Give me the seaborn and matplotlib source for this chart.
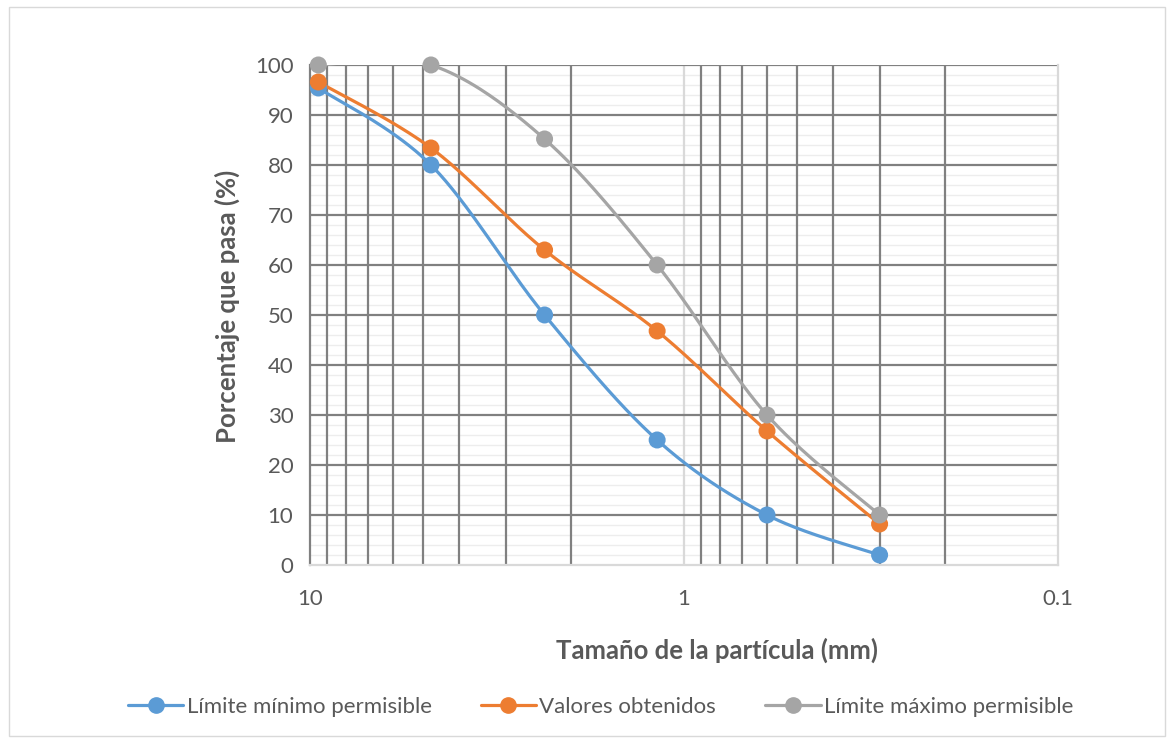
import numpy as np
import pandas as pd
import matplotlib
matplotlib.use("Agg")
import matplotlib.pyplot as plt
import seaborn as sns
from matplotlib.ticker import FixedLocator, NullFormatter
from matplotlib.patches import Rectangle
from matplotlib.lines import Line2D

# Sieve openings (mm) and percentage passing for each series
sizes = [9.5, 4.75, 2.36, 1.18, 0.6, 0.3]
lim_min = [95.4, 80, 50, 25, 10, 2]
obtenidos = [96.6, 83.4, 63, 46.8, 26.8, 8.2]
lim_max = [100, 100, 85.2, 60, 30, 10]

series_names = ["Límite mínimo permisible", "Valores obtenidos", "Límite máximo permisible"]
series_vals = [lim_min, obtenidos, lim_max]
colors = ["#5B9BD5", "#ED7D31", "#A5A5A5"]

sns.set_theme(style="white")
plt.rcParams["font.family"] = ["Lato", "DejaVu Sans"]

df = pd.DataFrame({
    "size": sizes * 3,
    "pct": lim_min + obtenidos + lim_max,
    "serie": sum([[n] * len(sizes) for n in series_names], []),
})

fig = plt.figure(figsize=(11.73, 7.4), dpi=100)
ax = fig.add_axes([0.2643, 0.2365, 0.902 - 0.2643, 0.9122 - 0.2365])

# Smoothed curve (Catmull-Rom) computed in screen-like proportions
def smooth(xs, ys, n=40):
    px = -np.log10(np.asarray(xs, float)) * 374.0
    py = np.asarray(ys, float) * 5.0
    P = np.column_stack([px, py])
    P = np.vstack([P[0], P, P[-1]])
    out = []
    t = np.linspace(0, 1, n)
    for i in range(1, len(P) - 2):
        p0, p1, p2, p3 = P[i - 1], P[i], P[i + 1], P[i + 2]
        c1 = p1 + (p2 - p0) / 6.0
        c2 = p2 - (p3 - p1) / 6.0
        seg = ((1 - t) ** 3)[:, None] * p1 + (3 * (1 - t) ** 2 * t)[:, None] * c1 \
            + (3 * (1 - t) * t ** 2)[:, None] * c2 + (t ** 3)[:, None] * p2
        out.append(seg)
    S = np.vstack(out)
    return 10 ** (-S[:, 0] / 374.0), S[:, 1] / 5.0

for name, vals, c in zip(series_names, series_vals, colors):
    sx, sy = smooth(sizes, vals)
    sns.lineplot(x=sx, y=sy, ax=ax, color=c, linewidth=2.3, sort=False,
                 estimator=None, legend=False, zorder=3)

sns.scatterplot(data=df, x="size", y="pct", hue="serie", palette=colors,
                s=150, edgecolor="none", ax=ax, legend=False, zorder=4)
for coll in ax.collections:
    coll.set_clip_on(False)

ax.set_xscale("log")
ax.set_xlim(10, 0.1)
ax.set_ylim(0, 100)

# Grid lines
minor_x = [m * 10 ** k for k in (0, -1) for m in range(2, 10)]
ax.xaxis.set_major_locator(FixedLocator([10, 1, 0.1]))
ax.xaxis.set_minor_locator(FixedLocator(minor_x))
ax.xaxis.set_minor_formatter(NullFormatter())
ax.set_xticklabels(["10", "1", "0.1"])
ax.yaxis.set_major_locator(FixedLocator(np.arange(0, 101, 10)))
ax.yaxis.set_minor_locator(FixedLocator(np.arange(0, 101, 2)))

ax.grid(False)
for xv in minor_x:
    ax.axvline(xv, color="#808080", linewidth=1.6, zorder=1)
ax.axvline(1, color="#D9D9D9", linewidth=1.6, zorder=1)
for yv in np.arange(2, 100, 2):
    if yv % 10:
        ax.axhline(yv, color="#EDEDED", linewidth=1.0, zorder=0)
for yv in np.arange(10, 101, 10):
    ax.axhline(yv, color="#808080", linewidth=1.6, zorder=1)

ax.spines["top"].set_visible(False)
ax.spines["left"].set_color("#808080")
ax.spines["left"].set_linewidth(1.6)
ax.spines["bottom"].set_color("#D9D9D9")
ax.spines["bottom"].set_linewidth(1.6)
ax.spines["right"].set_color("#D9D9D9")
ax.spines["right"].set_linewidth(1.6)

ax.tick_params(axis="both", which="both", length=0, labelsize=16, colors="#595959")
ax.tick_params(axis="x", pad=17)
ax.tick_params(axis="y", pad=12)

ax.set_xlabel("Tamaño de la partícula (mm)", fontsize=18.5, fontweight="bold",
              color="#595959")
ax.set_ylabel("Porcentaje que pasa (%)", fontsize=18.5, fontweight="bold",
              color="#595959")
ax.xaxis.set_label_coords(0.544, -0.146)
ax.yaxis.set_label_coords(-0.094, 0.518)

handles = [Line2D([0], [0], color=c, lw=2.3, marker="o", markersize=11) for c in colors]
leg = fig.legend(handles, series_names, loc="center", bbox_to_anchor=(0.512, 0.045),
                 ncol=3, frameon=False, fontsize=16, handlelength=2.5,
                 columnspacing=2.2, handletextpad=0.15)
for t in leg.get_texts():
    t.set_color("#595959")

fig.patches.append(Rectangle((0.008, 0.006), 0.985, 0.985, transform=fig.transFigure,
                             fill=False, edgecolor="#D9D9D9", linewidth=1.0))

fig.savefig("out.png", dpi=100)
